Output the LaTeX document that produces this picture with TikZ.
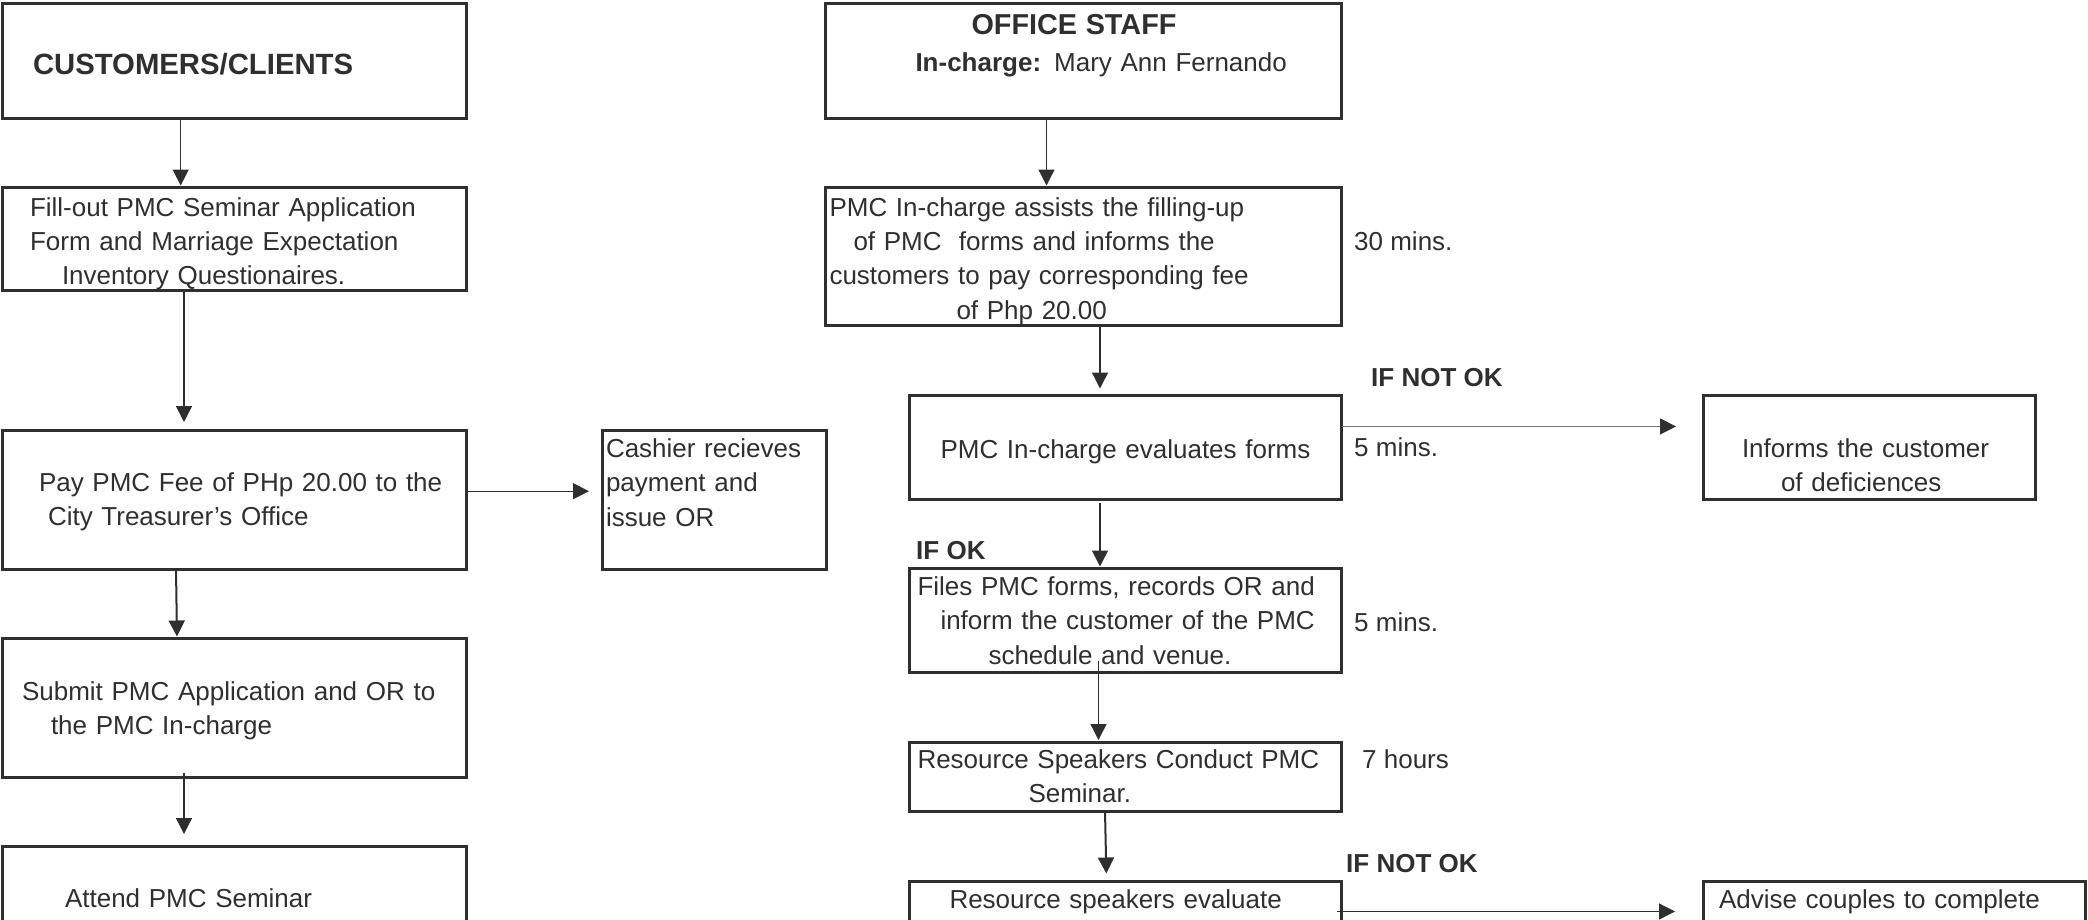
\documentclass[tikz,border=0pt]{standalone}
\usepackage{fontspec}
\setmainfont{Liberation Sans}
\usetikzlibrary{arrows.meta}
\usetikzlibrary{calc}

\definecolor{ink}{HTML}{2F2F2F}
\definecolor{wire}{HTML}{777777}

% first line pushed down inside a box
\newcommand{\lift}[1]{\rule{0pt}{#1}}

\tikzset{
	stepbox/.style={draw=ink, line width=3pt, rectangle, anchor=north west, inner xsep=4pt, inner ysep=0pt, outer sep=0pt, align=left},
	flow/.style={draw=ink, line width=1.3pt, -{Triangle[length=16pt,width=16pt,color=ink]}},
	note/.style={anchor=base west, inner sep=0pt},
	headfont/.style={font=\bfseries\fontsize{29.3}{34.3}\selectfont},
}

\begin{document}
\begin{tikzpicture}[x=1pt, y=-1pt, font=\fontsize{26}{34.3}\selectfont, text=ink]
	\useasboundingbox (0,0) rectangle (2088,919);
	\clip (0,0) rectangle (2088,919);

	% Customers / clients column
	\begin{scope}
		\node[stepbox, headfont, minimum width=464pt, minimum height=115pt, text width=456pt] (clients) at (2,3)
			{\lift{29pt}\hspace*{27pt}CUSTOMERS/CLIENTS};
		\node[stepbox, minimum width=464pt, minimum height=103pt, text width=456pt] (fillout) at (2,187)
			{\lift{29pt}\hspace*{24pt}Fill-out PMC Seminar Application\\
			 \hspace*{24pt}Form and Marriage Expectation\\
			 \hspace*{56pt}Inventory Questionaires.};
		\node[stepbox, minimum width=464pt, minimum height=139pt, text width=456pt] (payfee) at (2,430)
			{\lift{24pt}\hspace*{33pt}Pay PMC Fee of PHp 20.00 to the\\
			 \hspace*{42pt}City Treasurer's Office};
		\node[stepbox, minimum width=224pt, minimum height=139pt, text width=216pt] (cashier) at (602,430)
			{Cashier recieves\\ payment and\\ issue OR\\ \mbox{}};
		\node[stepbox, minimum width=464pt, minimum height=139pt, text width=456pt] (submit) at (2,638)
			{\lift{25pt}\hspace*{16pt}Submit PMC Application and OR to\\
			 \hspace*{45pt}the PMC In-charge};
		\node[stepbox, minimum width=464pt, minimum height=104pt, text width=456pt] (attend) at (2,846)
			{\hspace*{59pt}Attend PMC Seminar};

		% Arrows down the column
		\draw[flow, shorten >=1.5pt] ([xshift=-53.3pt]clients.south) -- ([xshift=-53.3pt]fillout.north);
		\draw[flow, shorten >=8pt] ([xshift=-50pt]fillout.south) -- ([xshift=-50pt]payfee.north);
		\draw[flow, shorten >=13pt] ([yshift=8.3pt]payfee.east) -- ([yshift=8.3pt]cashier.west);
		\draw[flow, line width=2pt, shorten >=1.5pt] ([xshift=-58pt]payfee.south) -- ([xshift=-57pt]submit.north);
		\draw[flow, shorten <=-4pt, shorten >=12pt] ([xshift=-50pt]submit.south) -- ([xshift=-50pt]attend.north);
	\end{scope}

	% Office staff column
	\begin{scope}
		\node[stepbox, minimum width=516pt, minimum height=115pt, text width=508pt] (staff) at (825.5,3)
			{\hspace*{142pt}{\bfseries\fontsize{28.8}{34.3}\selectfont OFFICE STAFF}\\[2.7pt]
			 \hspace*{86pt}\textbf{In-charge:} Mary Ann Fernando\\ \mbox{}};
		\node[stepbox, minimum width=516pt, minimum height=138pt, text width=508pt] (assist) at (825.5,187)
			{\lift{29pt}PMC In-charge assists the filling-up\\
			 \hspace*{24pt}of PMC\ \ forms and informs the\\
			 customers to pay corresponding fee\\
			 \hspace*{127pt}of Php 20.00};
		\node[stepbox, minimum width=432pt, minimum height=104.5pt, text width=424pt] (evalforms) at (909.5,395)
			{\lift{27pt}\hspace*{27pt}PMC In-charge evaluates forms};
		\node[stepbox, minimum width=332pt, minimum height=104.5pt, text width=324pt] (informs) at (1703,395)
			{\mbox{}\\[20pt]
			 \hspace*{35pt}Informs the customer\\
			 \hspace*{74pt}of deficiences};
		\node[stepbox, minimum width=432pt, minimum height=104pt, text width=424pt] (files) at (909.5,568.5)
			{\hspace*{4pt}Files PMC forms, records OR and\\
			 \hspace*{27pt}inform the customer of the PMC\\
			 \hspace*{75pt}schedule and venue.};
		\node[stepbox, minimum width=432pt, minimum height=69pt, text width=424pt] (conduct) at (909.5,742)
			{\hspace*{4pt}Resource Speakers Conduct PMC\\
			 \hspace*{115pt}Seminar.};
		\node[stepbox, minimum width=432pt, minimum height=104pt, text width=424pt] (evalcouples) at (909.5,881.5)
			{\hspace*{36pt}Resource speakers evaluate\\ \mbox{}\\ \mbox{}};
		\node[stepbox, minimum width=382pt, minimum height=104pt, text width=374pt] (advise) at (1703,881.5)
			{\hspace*{12pt}Advise couples to complete\\ \mbox{}\\ \mbox{}};

		% Times and conditions
		\node[note] (time1) at (1354,250) {30 mins.};
		\node[note, font=\bfseries\fontsize{26}{34.3}\selectfont] (notok1) at (1371,386) {IF NOT OK};
		\node[note] (time2) at (1354,456) {5 mins.};
		\node[note, font=\bfseries\fontsize{26}{34.3}\selectfont] (ifok) at (916,559.5) {IF OK};
		\node[note] (time3) at (1354,631) {5 mins.};
		\node[note] (time4) at (1362,768) {7 hours};
		\node[note, font=\bfseries\fontsize{26}{34.3}\selectfont] (notok2) at (1346,872.7) {IF NOT OK};

		% Arrows
		\draw[flow, shorten >=1.5pt] ([xshift=-37pt]staff.south) -- ([xshift=-37pt]assist.north);
		\draw[flow, shorten >=6.5pt] ([xshift=16.5pt]assist.south) -- ([xshift=-25.5pt]evalforms.north);
		\draw[flow, draw=wire, shorten >=27pt] ([yshift=20.8pt]evalforms.east) -- ([yshift=20.8pt]informs.west);
		\draw[flow, shorten <=3.5pt, shorten >=2pt] ([xshift=-25.5pt]evalforms.south) -- ([xshift=-25.5pt]files.north);
		\draw[flow, shorten <=-12pt, shorten >=2pt] ([xshift=-27pt]files.south) -- ([xshift=-27pt]conduct.north);
		\draw[flow, line width=2pt, shorten >=8pt] ([xshift=-20.5pt]conduct.south) -- ([xshift=-19pt]evalcouples.north);
		\draw[flow, shorten <=-4.5pt, shorten >=28pt] ([yshift=22pt]evalcouples.east) -- ([yshift=22pt]advise.west);
	\end{scope}

\end{tikzpicture}
\end{document}
